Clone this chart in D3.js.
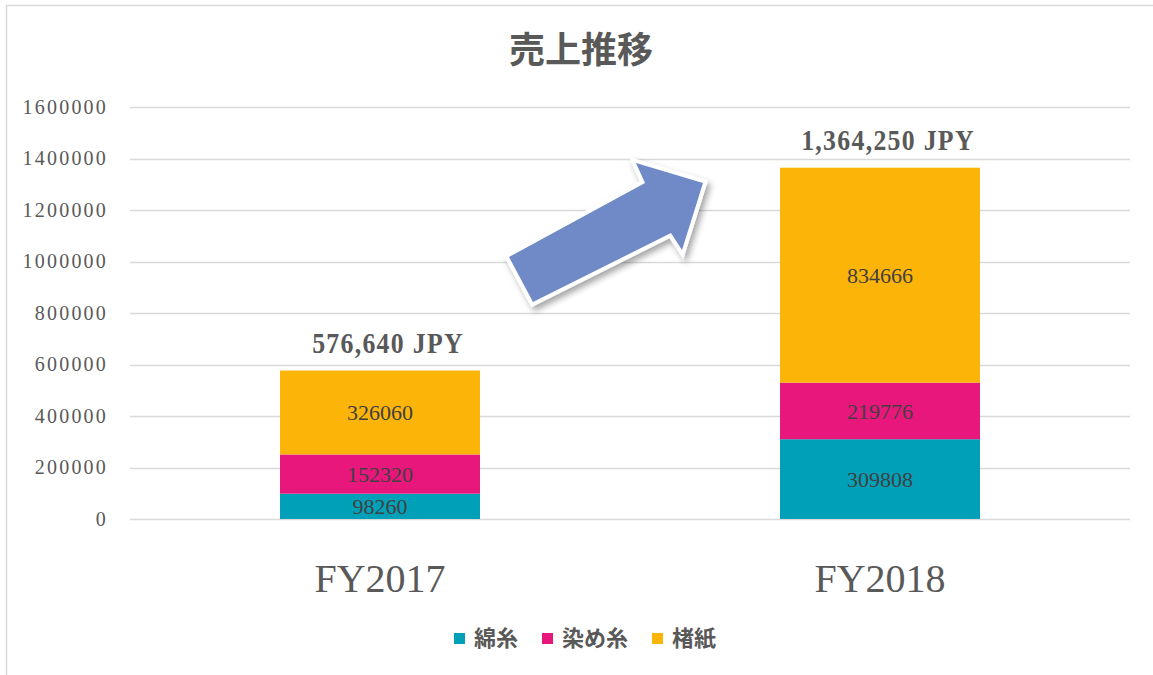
<!DOCTYPE html>
<html>
<head>
<meta charset="utf-8">
<script src="https://cdn.jsdelivr.net/npm/d3@7"></script>
<style>
  body { margin: 0; background: #fff; }
  svg { display: block; }
</style>
</head>
<body>
<div id="the_chart"></div>
<script>
var categories = ["FY2017", "FY2018"];
var series = ["綿糸", "染め糸", "楮紙"];
var cotton = [98260, 309808];
var dyed = [152320, 219776];
var kozo = [326060, 834666];
var totalLabels = ["576,640 JPY", "1,364,250 JPY"];
var yTicks = [0, 200000, 400000, 600000, 800000, 1000000, 1200000, 1400000, 1600000];
var colors = ["#00A0B9", "#E8177B", "#FDB409"];

var w = 1153, h = 675;
var plotLeft = 130, plotRight = 1130, plotTop = 107, plotBottom = 519;

var svg = d3.select("#the_chart").append("svg")
    .attr("width", w)
    .attr("height", h);

// chart border
svg.append("rect")
    .attr("x", 6.5).attr("y", 5.5)
    .attr("width", 1170).attr("height", 680)
    .attr("fill", "none")
    .attr("stroke", "#d9d9d9")
    .attr("stroke-width", 1.5);

var yscale = d3.scaleLinear().domain([0, 1600000]).range([plotBottom, plotTop]);
var xscale = d3.scaleBand().domain(categories).range([plotLeft, plotRight])
    .paddingInner(0.6).paddingOuter(0.3);

// gridlines
svg.append("g").selectAll("line")
    .data(yTicks)
    .enter().append("line")
    .attr("x1", plotLeft).attr("x2", plotRight)
    .attr("y1", function(d) { return Math.round(yscale(d)) + 0.5; })
    .attr("y2", function(d) { return Math.round(yscale(d)) + 0.5; })
    .attr("stroke", "#d9d9d9")
    .attr("stroke-width", 1.5);

// y axis labels
var yaxis = d3.axisLeft(yscale).tickValues(yTicks).tickSize(0).tickPadding(22)
    .tickFormat(d3.format("d"));
svg.append("g")
    .attr("transform", "translate(" + plotLeft + ",0)")
    .call(yaxis)
    .call(function(g) { g.select(".domain").remove(); })
    .selectAll("text")
    .attr("font-family", "'Liberation Serif', serif")
    .attr("font-size", 20)
    .attr("letter-spacing", "2.2px")
    .attr("fill", "#595959");

// stacked data
var table = categories.map(function(c, i) {
    return { cat: c, "綿糸": cotton[i], "染め糸": dyed[i], "楮紙": kozo[i] };
});
var stack = d3.stack().keys(series)(table);

var layers = svg.append("g").selectAll("g")
    .data(stack)
    .enter().append("g")
    .attr("fill", function(d, i) { return colors[i]; });

layers.selectAll("rect")
    .data(function(d) { return d; })
    .enter().append("rect")
    .attr("x", function(d) { return xscale(d.data.cat); })
    .attr("width", xscale.bandwidth())
    .attr("y", function(d) { return yscale(d[1]); })
    .attr("height", function(d) { return yscale(d[0]) - yscale(d[1]); });

layers.selectAll("text")
    .data(function(d) { return d; })
    .enter().append("text")
    .attr("x", function(d) { return xscale(d.data.cat) + xscale.bandwidth() / 2; })
    .attr("y", function(d) { return (yscale(d[0]) + yscale(d[1])) / 2; })
    .attr("dy", "0.35em")
    .attr("text-anchor", "middle")
    .attr("font-family", "'Liberation Serif', serif")
    .attr("font-size", 22)
    .attr("fill", "#404040")
    .text(function(d) { return d[1] - d[0]; });

// totals above bars
svg.append("g").selectAll("text")
    .data(categories)
    .enter().append("text")
    .attr("transform", function(d, i) {
        var x = xscale(d) + xscale.bandwidth() / 2 + 8;
        var y = yscale(cotton[i] + dyed[i] + kozo[i]) - 18;
        return "translate(" + x + "," + y + ") scale(0.86,1)";
    })
    .attr("text-anchor", "middle")
    .attr("font-family", "'Liberation Serif', serif")
    .attr("font-weight", "bold")
    .attr("font-size", 30)
    .attr("fill", "#595959")
    .attr("letter-spacing", "1.5px")
    .text(function(d, i) { return totalLabels[i]; });

// category axis labels
svg.append("g").selectAll("text")
    .data(categories)
    .enter().append("text")
    .attr("x", function(d) { return xscale(d) + xscale.bandwidth() / 2; })
    .attr("y", 592)
    .attr("text-anchor", "middle")
    .attr("font-family", "'Liberation Serif', serif")
    .attr("font-size", 40)
    .attr("fill", "#595959")
    .text(function(d) { return d; });

// title
svg.append("text")
    .attr("x", 581).attr("y", 63)
    .attr("text-anchor", "middle")
    .attr("font-family", "'Noto Sans CJK JP', sans-serif")
    .attr("font-weight", "bold")
    .attr("font-size", 36)
    .attr("fill", "#595959")
    .text("売上推移");

// legend
var legendX = [454, 542, 652];
var legend = svg.append("g").selectAll("g")
    .data(series)
    .enter().append("g")
    .attr("transform", function(d, i) { return "translate(" + legendX[i] + ",633)"; });
legend.append("rect")
    .attr("width", 11).attr("height", 11)
    .attr("fill", function(d, i) { return colors[i]; });
legend.append("text")
    .attr("x", 20).attr("y", 5.5)
    .attr("dy", "0.36em")
    .attr("font-family", "'Noto Sans CJK JP', sans-serif")
    .attr("font-weight", "bold")
    .attr("font-size", 22)
    .attr("fill", "#595959")
    .text(function(d) { return d; });

// arrow annotation
var defs = svg.append("defs");
var f = defs.append("filter").attr("id", "shadow")
    .attr("x", "-20%").attr("y", "-20%").attr("width", "150%").attr("height", "150%");
f.append("feDropShadow")
    .attr("dx", 3).attr("dy", 4).attr("stdDeviation", 3)
    .attr("flood-color", "#000").attr("flood-opacity", 0.35);

var arrowPts = [[509, 257], [645, 183], [636, 163], [703, 183], [682, 250], [671, 233], [533, 302]];
svg.append("polygon")
    .attr("points", arrowPts.map(function(p) { return p.join(","); }).join(" "))
    .attr("fill", "#6F8AC7")
    .attr("stroke", "#fff")
    .attr("stroke-width", 8)
    .attr("stroke-linejoin", "miter")
    .attr("filter", "url(#shadow)");
svg.append("polygon")
    .attr("points", arrowPts.map(function(p) { return p.join(","); }).join(" "))
    .attr("fill", "#6F8AC7");
</script>
</body>
</html>
